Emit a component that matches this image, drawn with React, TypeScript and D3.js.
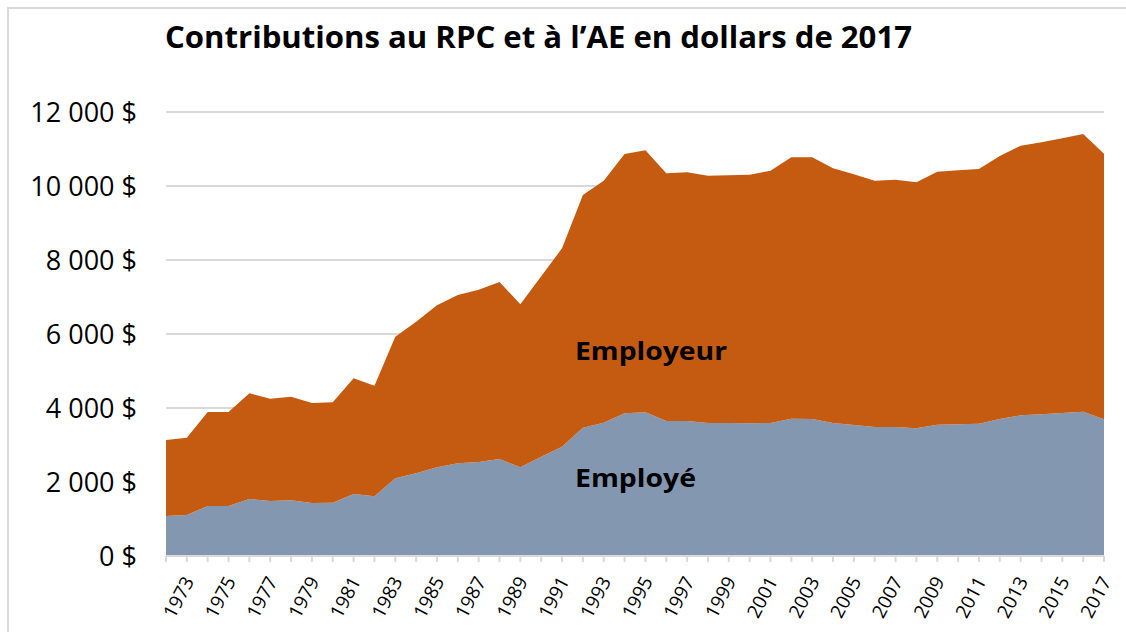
import React from "react";
import * as d3 from "d3";

const years: number[] = d3.range(1972, 2018);
const totalValues: number[] = [
  3135, 3198, 3892, 3892, 4397, 4253, 4307, 4136, 4154, 4802, 4604, 5928, 6334, 6776, 7055, 7199, 7406,
  6803, 7560, 8317, 9758, 10145, 10866, 10966, 10344, 10371, 10280, 10290, 10307, 10415, 10777, 10777,
  10480, 10317, 10145, 10172, 10100, 10388, 10425, 10461, 10812, 11091, 11181, 11290, 11407, 10874,
];
const employeValues: number[] = [
  1081, 1108, 1351, 1351, 1541, 1487, 1505, 1433, 1442, 1676, 1613, 2099, 2234, 2396, 2505, 2541, 2622,
  2396, 2685, 2955, 3469, 3604, 3857, 3884, 3649, 3649, 3595, 3595, 3586, 3595, 3712, 3703,
  3595, 3541, 3487, 3487, 3451, 3550, 3559, 3577, 3703, 3802, 3829, 3865, 3901, 3694,
];
const employeurValues: number[] = totalValues.map((t, i) => t - employeValues[i]);
const yTicks: number[] = [0, 2000, 4000, 6000, 8000, 10000, 12000];
const seriesKeys = ["employe", "employeur"];
const seriesColors = ["#8497B0", "#C55A11"];
const title = "Contributions au RPC et à l’AE en dollars de 2017";

export default function App() {
  const W = 1126, H = 632;
  const x0 = 166, x1 = 1104, yBottom = 556, yTop = 112;
  const x = d3.scaleLinear().domain([years[0], years[years.length - 1]]).range([x0, x1]);
  const y = d3.scaleLinear().domain([0, 12000]).range([yBottom, yTop]);

  const rows = years.map((yr, i) => ({ year: yr, employe: employeValues[i], employeur: employeurValues[i] }));
  const stacked = d3.stack<any>().keys(seriesKeys)(rows);
  const area = d3.area<any>()
    .x((d) => x(d.data.year))
    .y0((d) => y(d[0]))
    .y1((d) => y(d[1]));

  const fmt = (v: number) => {
    const s = String(v);
    const withSpace = s.length > 3 ? s.slice(0, s.length - 3) + " " + s.slice(s.length - 3) : s;
    return withSpace + " $";
  };

  return (
    <svg width={W} height={H} style={{ position: "absolute", left: 0, top: 0, background: "#fff" }}
      fontFamily="'Open Sans', sans-serif">
      <rect x={8} y={8} width={1300} height={800} fill="#fff" stroke="#d9d9d9" strokeWidth={2} />
      <text x={165} y={48} fontSize={31} fontWeight="bold" textLength={747} lengthAdjust="spacingAndGlyphs">{title}</text>
      {yTicks.map((t) => (
        <g key={t}>
          {t > 0 && <line x1={x0} x2={x1} y1={y(t)} y2={y(t)} stroke="#d9d9d9" strokeWidth={2} />}
          <text x={137} y={y(t)} dy="0.36em" fontSize={27} textAnchor="end" fill="#000">{fmt(t)}</text>
        </g>
      ))}
      {stacked.map((s, i) => (
        <path key={s.key} d={area(s as any) || ""} fill={seriesColors[i]} />
      ))}
      <line x1={x0} x2={x1} y1={yBottom} y2={yBottom} stroke="#d9d9d9" strokeWidth={2} />
      {years.map((yr) => (
        <line key={yr} x1={x(yr)} x2={x(yr)} y1={yBottom} y2={yBottom + 6} stroke="#d9d9d9" strokeWidth={2} />
      ))}
      {years.filter((yr) => yr % 2 === 1).map((yr) => (
        <text key={yr} transform={`translate(${x(yr) + 2},${yBottom + 22}) rotate(-62)`} textAnchor="end"
          dy="0.35em" fontSize={19} fill="#000">{yr}</text>
      ))}
      <text x={575} y={360} fontSize={25} fontWeight="bold" textLength={152} lengthAdjust="spacingAndGlyphs">Employeur</text>
      <text x={575} y={487} fontSize={25} fontWeight="bold" textLength={121} lengthAdjust="spacingAndGlyphs">Employé</text>
    </svg>
  );
}
